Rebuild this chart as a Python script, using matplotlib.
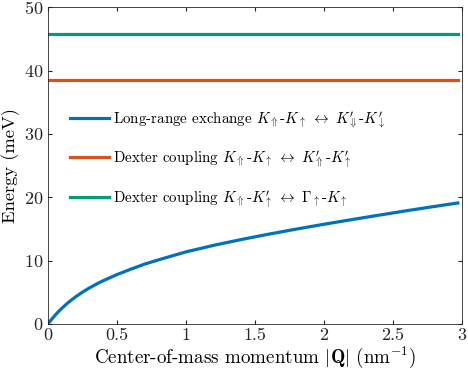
import numpy as np
import matplotlib.pyplot as plt

plt.rcParams['font.family'] = 'serif'
plt.rcParams['font.serif'] = ['cmr10']
plt.rcParams['mathtext.fontset'] = 'cm'
plt.rcParams['axes.formatter.use_mathtext'] = True

# 数据
q = [0, 0.025, 0.05, 0.075, 0.1, 0.15, 0.2, 0.25, 0.3, 0.35, 0.4, 0.5, 0.6, 0.7, 0.8, 0.9,
     1.0, 1.2, 1.4, 1.6, 1.8, 2.0, 2.2, 2.4, 2.6, 2.8, 2.97]
e_exchange = [0, 0.71, 1.35, 1.94, 2.48, 3.45, 4.29, 5.03, 5.69, 6.29, 6.83, 7.8, 8.65, 9.45, 10.12, 10.75,
              11.38, 12.41, 13.33, 14.18, 14.98, 15.74, 16.47, 17.18, 17.88, 18.55, 19.1]
q_flat = [0, 2.97]
e_dexter1 = [38.5, 38.5]
e_dexter2 = [45.8, 45.8]

labels = [r"Long-range exchange $K_{\Uparrow}$-$K_{\uparrow}\;\leftrightarrow\;K^{\prime}_{\Downarrow}$-$K^{\prime}_{\downarrow}$",
          r"Dexter coupling $K_{\Uparrow}$-$K_{\uparrow}\;\leftrightarrow\;K^{\prime}_{\Uparrow}$-$K^{\prime}_{\uparrow}$",
          r"Dexter coupling $K_{\Uparrow}$-$K^{\prime}_{\uparrow}\;\leftrightarrow\;\Gamma_{\uparrow}$-$K_{\uparrow}$"]

fig = plt.figure(figsize=(4.68, 3.78), dpi=100)
ax = fig.add_axes([0.1026, 0.1429, 0.8844, 0.838])
ax.plot(q, e_exchange, color='#0072BD', lw=2.3, label=labels[0])
ax.plot(q_flat, e_dexter1, color='#D95319', lw=2.3, label=labels[1])
ax.plot(q_flat, e_dexter2, color='#009E73', lw=2.3, label=labels[2])

ax.set_xlim(0, 3)
ax.set_ylim(0, 50)
ax.set_xticks([0, 0.5, 1, 1.5, 2, 2.5, 3])
ax.set_xticklabels(['0', '0.5', '1', '1.5', '2', '2.5', '3'])
ax.set_yticks([0, 10, 20, 30, 40, 50])
ax.tick_params(direction='in', top=True, right=True, length=3, labelsize=13, colors='#262626', pad=3)
for s in ax.spines.values():
    s.set_color('#262626')
    s.set_linewidth(0.6)
ax.set_xlabel(r'Center-of-mass momentum $|\mathbf{Q}|$ (nm$^{-1}$)', fontsize=13.7, labelpad=1)
ax.set_ylabel('Energy (meV)', fontsize=13.3, labelpad=3)
ax.legend(loc='upper left', bbox_to_anchor=(0.02, 0.72), frameon=False, fontsize=10.8,
          handlelength=2.6, handletextpad=0.3, labelspacing=1.2)

plt.savefig('out.png', dpi=100)
